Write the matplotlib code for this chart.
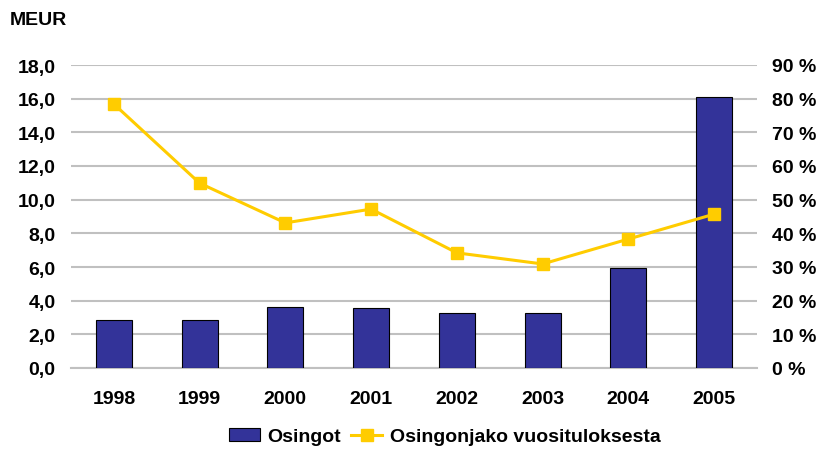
import matplotlib.pyplot as plt
import numpy as np

plt.rcParams['font.family'] = ['Liberation Sans', 'DejaVu Sans']
plt.rcParams['font.weight'] = 'bold'

# data
years = ['1998', '1999', '2000', '2001', '2002', '2003', '2004', '2005']
osingot = [2.85, 2.85, 3.62, 3.56, 3.25, 3.25, 5.94, 16.1]
osuus = [78.4, 54.9, 43.1, 47.2, 34.2, 30.9, 38.3, 45.7]

fig = plt.figure(figsize=(8.19, 4.52), dpi=100)
ax = fig.add_axes([71 / 819, 1 - 369 / 452, 686 / 819, 303 / 452])
x = np.arange(len(years))

ax.bar(x, osingot, width=0.42, color='#333399', edgecolor='black', linewidth=0.8,
       label='Osingot', zorder=3)
ax.set_ylim(0, 18)
ax.set_yticks(np.arange(0, 18.1, 2))
ax.set_yticklabels([('%.1f' % v).replace('.', ',') for v in np.arange(0, 18.1, 2)])
ax.set_xlim(-0.5, len(years) - 0.5)
ax.set_xticks(x)
ax.set_xticklabels(years)
ax.grid(axis='y', color='#C0C0C0', linewidth=1.5, zorder=0)
ax.set_axisbelow(True)
for s in ['top', 'right', 'left']:
    ax.spines[s].set_visible(False)
ax.spines['bottom'].set_color('#C0C0C0')
ax.spines['bottom'].set_linewidth(1.5)
ax.tick_params(axis='y', length=0, labelsize=14, pad=11)
ax.tick_params(axis='x', length=0, labelsize=14, pad=16)

ax2 = ax.twinx()
ax2.plot(x, osuus, color='#FFCC00', linewidth=2.2, marker='s', markersize=9,
         label='Osingonjako vuosituloksesta', zorder=4)
ax2.set_ylim(0, 90)
ax2.set_yticks(np.arange(0, 91, 10))
ax2.set_yticklabels(['%d %%' % v for v in range(0, 91, 10)])
for s in ['top', 'right', 'left', 'bottom']:
    ax2.spines[s].set_visible(False)
ax2.tick_params(axis='y', length=0, labelsize=14, pad=10.5)

fig.text(0.012, 0.955, 'MEUR', fontsize=14, fontweight='bold', va='center')

h1, l1 = ax.get_legend_handles_labels()
h2, l2 = ax2.get_legend_handles_labels()
fig.legend(h1 + h2, l1 + l2, loc='center', bbox_to_anchor=(0.543, 0.032), ncol=2,
           frameon=False, fontsize=14, handlelength=1.6, columnspacing=0.5,
           handletextpad=0.4)

plt.savefig('out.png', dpi=100)
